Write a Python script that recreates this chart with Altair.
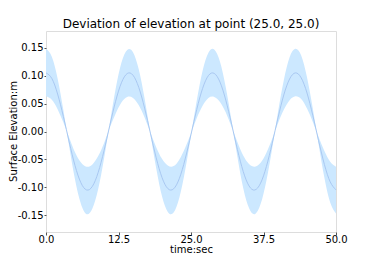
import altair as alt
import pandas as pd

time = list(range(0, 51))
mean = [0.105, 0.0951, 0.0672, 0.0267, -0.0189, -0.0609, -0.0914, -0.1047, -0.0982, -0.0732,
        -0.0344, 0.0109, 0.0541, 0.0872, 0.1038, 0.1008, 0.0788, 0.0419, -0.0029, -0.0471,
        -0.0824, -0.1022, -0.1027, -0.0839, -0.0491, -0.0052, 0.0398, 0.0772, 0.1001, 0.1041,
        0.0885, 0.0561, 0.0132, -0.0322, -0.0715, -0.0974, -0.1048, -0.0925, -0.0627, -0.0211,
        0.0245, 0.0655, 0.0941, 0.1050, 0.0961, 0.0690, 0.0289, -0.0166, -0.0590, -0.0902, -0.1045]
upper = [0.148, 0.134, 0.095, 0.038, -0.027, -0.086, -0.129, -0.148, -0.138, -0.103,
         -0.049, 0.015, 0.076, 0.123, 0.146, 0.142, 0.111, 0.059, -0.004, -0.066,
         -0.116, -0.144, -0.145, -0.118, -0.069, -0.007, 0.056, 0.109, 0.141, 0.147,
         0.125, 0.079, 0.019, -0.045, -0.101, -0.137, -0.148, -0.130, -0.088, -0.030,
         0.035, 0.092, 0.133, 0.148, 0.136, 0.097, 0.041, -0.023, -0.083, -0.127, -0.147]
lower = [0.063, 0.057, 0.040, 0.016, -0.011, -0.037, -0.055, -0.063, -0.059, -0.044,
         -0.021, 0.007, 0.032, 0.052, 0.062, 0.060, 0.047, 0.025, -0.002, -0.028,
         -0.049, -0.061, -0.062, -0.050, -0.029, -0.003, 0.024, 0.046, 0.060, 0.062,
         0.053, 0.034, 0.008, -0.019, -0.043, -0.058, -0.063, -0.056, -0.038, -0.013,
         0.015, 0.039, 0.056, 0.063, 0.058, 0.041, 0.017, -0.010, -0.035, -0.054, -0.063]

x_ticks = [0.0, 12.5, 25.0, 37.5, 50.0]
y_ticks = [-0.15, -0.10, -0.05, 0.00, 0.05, 0.10, 0.15]

df = pd.DataFrame({"t": time, "m": mean, "hi": upper, "lo": lower})

font = "DejaVu Sans"
xs = alt.Scale(domain=[0, 50], nice=False, zero=False)
ys = alt.Scale(domain=[-0.18, 0.18], nice=False, zero=False)

xaxis = alt.Axis(values=x_ticks, format=".1f", title="time:sec", grid=False,
                 labelFont=font, titleFont=font, labelFontSize=10, titleFontSize=10,
                 titleFontWeight="normal", labelColor="black", titleColor="black",
                 tickColor="#555", domain=False, tickSize=3, labelPadding=-1,
                 titleX=145, titleY=17, titleBaseline="middle", titleAlign="center",
                 labelFlush=False, labelOverlap=False)
yaxis = alt.Axis(values=y_ticks, title="Surface Elevation:m", grid=False,
                 labelExpr="replace(format(datum.value, '.2f'), '\u2212', '-')",
                 labelFont=font, titleFont=font, labelFontSize=10, titleFontSize=10,
                 titleFontWeight="normal", labelColor="black", titleColor="black",
                 tickColor="#555", domain=False, tickSize=2, labelPadding=1,
                 titleX=-33, titleY=100, titleBaseline="middle", titleAlign="center",
                 titleAngle=270, labelOverlap=False, labelFlush=False)

band = alt.Chart(df).mark_area(color="#cce8ff", opacity=1, interpolate="natural").encode(
    x=alt.X("t:Q", scale=xs, axis=xaxis),
    y=alt.Y("hi:Q", scale=ys, axis=yaxis),
    y2="lo:Q",
)
line = alt.Chart(df).mark_line(color="#a9c8f2", strokeWidth=1, interpolate="natural").encode(
    x=alt.X("t:Q", scale=xs, axis=xaxis),
    y=alt.Y("m:Q", scale=ys, axis=yaxis),
)

chart = (band + line).properties(
    width=290, height=201,
    title=alt.Title("Deviation of elevation at point (25.0, 25.0)", font=font,
                    fontSize=12, fontWeight="normal", color="black", offset=0),
    autosize=alt.AutoSizeParams(type="none"),
    padding={"left": 38, "top": 23, "right": 20, "bottom": 28},
).configure_view(stroke="#555", strokeWidth=1).configure(background="white")

chart.save("out.html", embed_options={"renderer": "svg", "actions": False})
